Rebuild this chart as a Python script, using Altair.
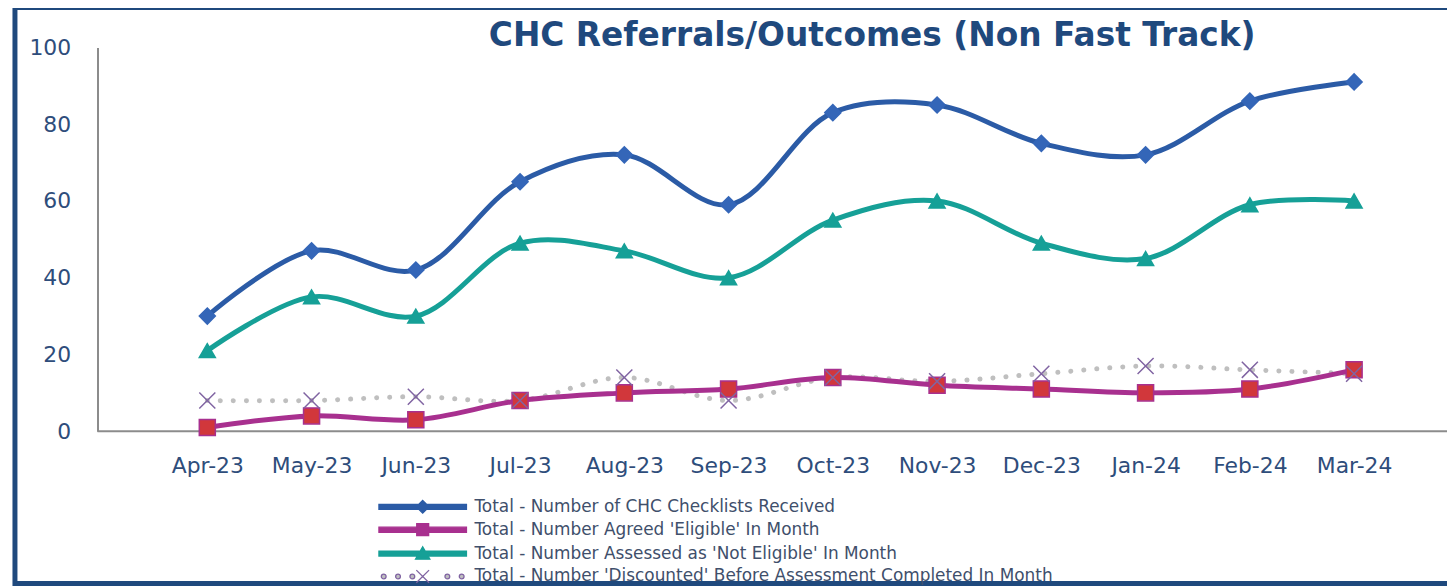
import altair as alt
import pandas as pd

months = ["Apr-23", "May-23", "Jun-23", "Jul-23", "Aug-23", "Sep-23",
          "Oct-23", "Nov-23", "Dec-23", "Jan-24", "Feb-24", "Mar-24"]
checklists = [30, 47, 42, 65, 72, 59, 83, 85, 75, 72, 86, 91]
eligible = [1, 4, 3, 8, 10, 11, 14, 12, 11, 10, 11, 16]
not_eligible = [21, 35, 30, 49, 47, 40, 55, 60, 49, 45, 59, 60]
discounted = [8, 8, 9, 8, 14, 8, 14, 13, 15, 17, 16, 15]

series_names = [
    "Total - Number of CHC Checklists Received",
    "Total - Number Agreed 'Eligible' In Month",
    "Total - Number Assessed as 'Not Eligible' In Month",
    "Total - Number 'Discounted' Before Assessment Completed In Month",
]
series_values = [checklists, eligible, not_eligible, discounted]
title_text = "CHC Referrals/Outcomes (Non Fast Track)"

rows = []
for name, vals in zip(series_names, series_values):
    for m, v in zip(months, vals):
        rows.append({"month": m, "value": v, "series": name,
                     "series2": name, "series3": name})
df = pd.DataFrame(rows)

W, H = 1357, 386
AXIS_TXT = "#2E4D7B"
BLUE_DARK = "#1F497D"

x_enc = alt.X("month:N", sort=months, title=None,
              scale=alt.Scale(type="point", range=[58, 1316]),
              axis=alt.Axis(domain=False, ticks=False, labelAngle=0,
                            labelFont="DejaVu Sans", labelFontSize=22,
                            labelColor=AXIS_TXT, labelPadding=24,
                            labelBaseline="top", grid=False))
y_enc = alt.Y("value:Q", title=None,
              scale=alt.Scale(domain=[0, 100], nice=False),
              axis=alt.Axis(values=[0, 20, 40, 60, 80, 100], ticks=False,
                            domain=True, domainColor="#8C8C8C", domainWidth=2,
                            labelFont="DejaVu Sans", labelFontSize=22,
                            labelColor=AXIS_TXT, labelPadding=27, grid=False))

line_colors = ["#2B5BA6", "#A8308F", "#16A097", "#BFBFBF"]

color_line = alt.Color("series:N", sort=series_names,
                       scale=alt.Scale(domain=series_names, range=line_colors),
                       legend=None)

base = alt.Chart(df)

dotted = base.mark_line(interpolate="catmull-rom", strokeWidth=5, strokeCap="round",
                        strokeDash=[0.1, 13]).encode(
    x=x_enc, y=y_enc, color=color_line
).transform_filter(alt.datum.series == series_names[3])

solid = base.mark_line(interpolate="catmull-rom", strokeWidth=5, strokeCap="round").encode(
    x=x_enc, y=y_enc, color=color_line
).transform_filter(alt.datum.series != series_names[3])

fill_colors = ["#3466B8", "#D1373B", "#16A097", "#8064A2"]
stroke_colors = ["#3466B8", "#A8308F", "#16A097", "#8064A2"]
shapes = ["diamond", "square", "triangle-up", "M-1,-1L1,1M-1,1L1,-1"]

points = base.mark_point(filled=True, size=260, strokeWidth=1.5, opacity=1).encode(
    x=x_enc, y=y_enc,
    color=alt.Color("series2:N", sort=series_names,
                    scale=alt.Scale(domain=series_names, range=fill_colors),
                    legend=None),
    stroke=alt.Stroke("series2:N", sort=series_names,
                      scale=alt.Scale(domain=series_names, range=stroke_colors),
                      legend=None),
    shape=alt.Shape("series2:N", sort=series_names,
                    scale=alt.Scale(domain=series_names, range=shapes),
                    legend=None),
)

# legend symbols: line segment + marker, as SVG paths (units of 8px)
bar = "M-5.5,-0.32L5.5,-0.32L5.5,0.32L-5.5,0.32Z"
def dot(cx, r=0.3):
    return f"M{cx - r},0A{r},{r} 0 1,0 {cx + r},0A{r},{r} 0 1,0 {cx - r},0Z"
legend_shapes = [
    bar + "M0,-0.8L0.8,0L0,0.8L-0.8,0Z",
    bar + "M-0.75,-0.75L0.75,-0.75L0.75,0.75L-0.75,0.75Z",
    bar + "M0,-0.85L0.9,0.7L-0.9,0.7Z",
    "".join(dot(c) for c in [-4.9, -3.1, -1.3, 3.1, 4.9])
    + "M-0.8,-0.8L0.8,0.8M-0.8,0.8L0.8,-0.8",
]
legend_fill = ["#2B5BA6", "#A8308F", "#16A097", "#BFBFBF"]
legend_stroke = ["#2B5BA6", "#A8308F", "#16A097", "#8064A2"]

leg = alt.Legend(
    orient="none", legendX=282, legendY=453, title=None,
    symbolSize=256, symbolOffset=36, symbolStrokeWidth=1.3, symbolOpacity=1,
    labelFont="DejaVu Sans", labelFontSize=17, labelColor="#404F6B",
    labelOffset=43, rowPadding=5, labelLimit=900, padding=0,
)
legend_layer = base.mark_point(filled=True, size=256, opacity=0, strokeWidth=1.3).encode(
    x=x_enc, y=y_enc,
    color=alt.Color("series3:N", sort=series_names,
                    scale=alt.Scale(domain=series_names, range=legend_fill),
                    legend=leg),
    stroke=alt.Stroke("series3:N", sort=series_names,
                      scale=alt.Scale(domain=series_names, range=legend_stroke),
                      legend=leg),
    shape=alt.Shape("series3:N", sort=series_names,
                    scale=alt.Scale(domain=series_names, range=legend_shapes),
                    legend=leg),
)

one = pd.DataFrame({"t": [title_text]})
border = alt.Chart(one).mark_rect(fill="transparent", stroke=BLUE_DARK, strokeWidth=5).encode(
    x=alt.value(-83), x2=alt.value(1380), y=alt.value(-40), y2=alt.value(539)
)
xbase = alt.Chart(one).mark_rule(color="#8C8C8C", strokeWidth=2).encode(
    x=alt.value(0), x2=alt.value(W), y=alt.value(H)
)
title = alt.Chart(one).mark_text(font="DejaVu Sans", fontWeight="bold", fontSize=33,
                                 color=BLUE_DARK, align="center", baseline="middle").encode(
    x=alt.value(779), y=alt.value(-11), text="t:N"
)

chart = alt.layer(border, xbase, dotted, solid, points, legend_layer, title).resolve_scale(
    color="independent", stroke="independent", shape="independent"
).resolve_legend(
    color="independent", stroke="independent", shape="independent"
).properties(
    width=W, height=H,
    background="white",
    autosize=alt.AutoSizeParams(type="none"),
    padding={"left": 90, "top": 38, "right": 0, "bottom": 155},
).configure_view(stroke="transparent")

chart.save("out.html", embed_options={"renderer": "svg", "actions": False})
